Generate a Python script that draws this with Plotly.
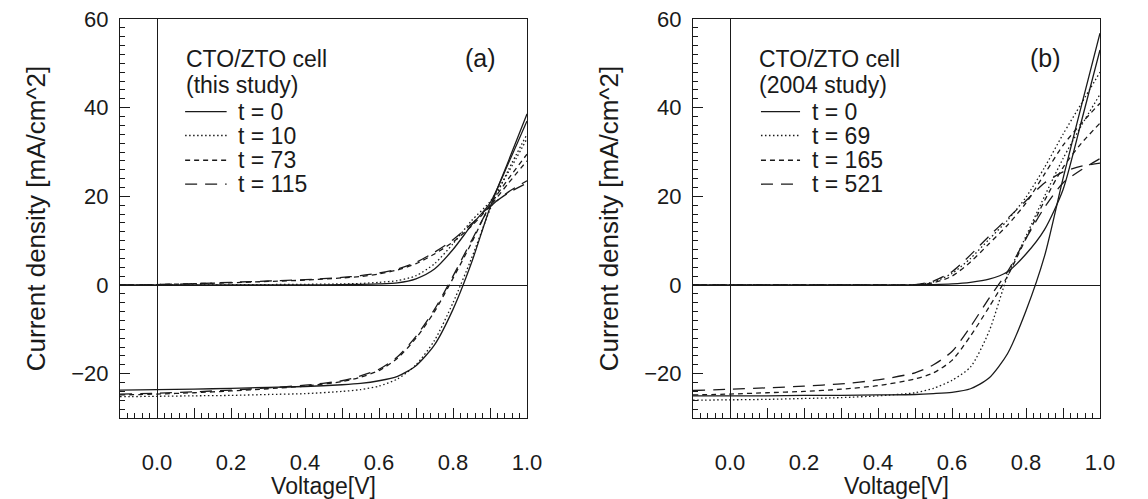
import plotly.graph_objects as go

# ---------------- data ----------------
V = [-0.1, 0.0, 0.1, 0.2, 0.3, 0.4, 0.5, 0.55, 0.6, 0.65, 0.7, 0.75, 0.8, 0.85, 0.9, 0.95, 1.0]

# Panel (a): CTO/ZTO cell (this study)
a_labels = ["t = 0", "t = 10", "t = 73", "t = 115"]
a_light_t0 = [-23.7, -23.6, -23.5, -23.3, -23.1, -22.9, -22.5, -22.2, -21.6, -20.6, -18.2, -13.5, -5.5, 5.0, 17.5, 28.0, 38.6]
a_light_t10 = [-25.2, -25.1, -25.0, -24.9, -24.7, -24.5, -24.0, -23.6, -22.8, -21.2, -18.0, -12.5, -4.0, 6.0, 17.0, 26.0, 34.0]
a_light_t73 = [-24.8, -24.6, -24.3, -23.9, -23.4, -22.8, -21.8, -20.8, -19.3, -16.5, -12.0, -6.0, 1.5, 9.5, 18.0, 24.0, 29.5]
a_light_t115 = [-24.6, -24.4, -24.1, -23.7, -23.2, -22.6, -21.6, -20.5, -19.0, -16.2, -11.6, -5.5, 2.0, 10.0, 17.5, 21.0, 23.5]
a_dark_t0 = [0.0, 0.0, 0.0, 0.0, 0.0, 0.0, 0.1, 0.15, 0.25, 0.5, 1.4, 3.6, 8.0, 13.5, 18.5, 27.5, 37.0]
a_dark_t10 = [0.0, 0.0, 0.0, 0.05, 0.1, 0.15, 0.25, 0.35, 0.6, 1.0, 2.1, 4.8, 9.3, 14.5, 18.8, 25.5, 33.0]
a_dark_t73 = [0.0, 0.1, 0.3, 0.5, 0.8, 1.1, 1.6, 1.9, 2.5, 3.4, 4.8, 7.0, 9.7, 13.3, 17.8, 23.0, 28.0]
a_dark_t115 = [0.0, 0.1, 0.3, 0.6, 0.9, 1.2, 1.7, 2.1, 2.7, 3.6, 5.1, 7.4, 10.2, 13.8, 17.8, 20.8, 23.0]

# Panel (b): CTO/ZTO cell (2004 study)
b_labels = ["t = 0", "t = 69", "t = 165", "t = 521"]
b_light_t0 = [-25.0, -25.0, -25.0, -24.9, -24.9, -24.8, -24.7, -24.5, -24.2, -23.4, -21.0, -15.5, -5.8, 6.5, 24.0, 40.5, 56.8]
b_light_t69 = [-26.0, -25.9, -25.8, -25.6, -25.4, -25.0, -24.3, -23.3, -21.5, -18.5, -10.5, 2.0, 11.0, 20.0, 28.5, 36.0, 43.0]
b_light_t165 = [-24.8, -24.6, -24.3, -24.0, -23.5, -22.7, -21.2, -19.8, -17.0, -11.5, -5.0, 2.0, 10.5, 19.0, 26.5, 32.0, 36.5]
b_light_t521 = [-23.8, -23.5, -23.2, -22.8, -22.3, -21.4, -19.8, -18.0, -15.0, -9.4, -3.0, 3.0, 10.5, 17.5, 23.0, 26.0, 28.5]
b_dark_t0 = [0.0, 0.0, 0.0, 0.0, 0.0, 0.0, 0.05, 0.1, 0.25, 0.6, 1.3, 3.0, 7.0, 12.5, 21.5, 37.0, 53.0]
b_dark_t69 = [0.0, 0.0, 0.0, 0.0, 0.0, 0.0, 0.05, 0.7, 2.6, 6.0, 10.3, 14.6, 19.8, 26.5, 34.0, 41.0, 48.0]
b_dark_t165 = [0.0, 0.0, 0.0, 0.0, 0.0, 0.0, 0.05, 0.5, 2.0, 5.2, 9.3, 13.5, 18.5, 25.0, 31.5, 36.5, 41.0]
b_dark_t521 = [0.0, 0.0, 0.0, 0.0, 0.0, 0.0, 0.1, 0.9, 3.0, 6.8, 11.0, 15.0, 19.0, 23.0, 25.5, 26.8, 27.5]

x_tickvals = [0.0, 0.1, 0.2, 0.3, 0.4, 0.5, 0.6, 0.7, 0.8, 0.9, 1.0]
x_ticktext = ["0.0", "", "0.2", "", "0.4", "", "0.6", "", "0.8", "", "1.0"]

# ---------------- styling ----------------
INK = "#1a1a1a"
FONT = "Liberation Sans, Arial, sans-serif"
DASHES = ["solid", "1.5px,2.5px", "5px,4px", "12px,8px"]
LW = 1.3

# page body has an 8px margin -> figure is 8px smaller than the window
FIG_W, FIG_H = 1140, 491

fig = go.Figure()


def add_panel(lights, darks, labels, xa, ya):
    for i, (lt, dk, lab) in enumerate(zip(lights, darks, labels)):
        for kind, ys in (("light", lt), ("dark", dk)):
            fig.add_trace(go.Scatter(
                x=V, y=ys, mode="lines", name=f"{lab} ({kind})",
                line=dict(color=INK, width=LW, dash=DASHES[i], shape="spline", smoothing=0.7),
                xaxis=xa, yaxis=ya, showlegend=False, hoverinfo="x+y+name"))


add_panel([a_light_t0, a_light_t10, a_light_t73, a_light_t115],
          [a_dark_t0, a_dark_t10, a_dark_t73, a_dark_t115], a_labels, "x", "y")
add_panel([b_light_t0, b_light_t69, b_light_t165, b_light_t521],
          [b_dark_t0, b_dark_t69, b_dark_t165, b_dark_t521], b_labels, "x2", "y2")


def xaxis_cfg(domain, anchor):
    return dict(
        domain=domain, anchor=anchor, range=[-0.1, 1.0],
        tickmode="array", tickvals=x_tickvals, ticktext=x_ticktext,
        ticks="inside", ticklen=10, tickwidth=1, tickcolor=INK,
        minor=dict(dtick=0.02, tick0=0, ticks="inside", ticklen=5, tickwidth=1, tickcolor=INK, showgrid=False),
        showline=True, linecolor=INK, linewidth=1, mirror=True,
        showgrid=False, zeroline=True, zerolinecolor=INK, zerolinewidth=1,
        tickfont=dict(family=FONT, size=22, color=INK), ticklabelstandoff=25,
        ticklabeloverflow="allow",
        title=dict(text="Voltage[V]", font=dict(family=FONT, size=23, color=INK), standoff=0),
        automargin=False)


def yaxis_cfg(domain, anchor):
    return dict(
        domain=domain, anchor=anchor, range=[-30, 60],
        tick0=0, dtick=20,
        ticks="inside", ticklen=10, tickwidth=1, tickcolor=INK,
        minor=dict(dtick=2, tick0=0, ticks="inside", ticklen=5, tickwidth=1, tickcolor=INK, showgrid=False),
        showline=True, linecolor=INK, linewidth=1, mirror=True,
        showgrid=False, zeroline=True, zerolinecolor=INK, zerolinewidth=1,
        tickfont=dict(family=FONT, size=22, color=INK), ticklabelstandoff=6,
        ticklabeloverflow="allow",
        title=dict(text="Current density [mA/cm^2]", font=dict(family=FONT, size=26, color=INK), standoff=18),
        automargin=False)


YDOM = [81 / FIG_H, 480 / FIG_H]
fig.update_layout(
    width=FIG_W, height=FIG_H,
    margin=dict(l=0, r=0, t=0, b=0),
    paper_bgcolor="white", plot_bgcolor="white",
    font=dict(family=FONT, color=INK),
    showlegend=False,
    xaxis=xaxis_cfg([112 / FIG_W, 519 / FIG_W], "y"),
    yaxis=yaxis_cfg(YDOM, "x"),
    xaxis2=xaxis_cfg([685 / FIG_W, 1092 / FIG_W], "y2"),
    yaxis2=yaxis_cfg(YDOM, "x2"),
)

# ---------------- in-plot legends (text + line samples) ----------------
ROWS = [0.768, 0.708, 0.646, 0.586]


def add_legend(xref, yref, title1, title2, labels, tag, x_line0, x_line1, x_text, x_title, x_tag):
    fig.add_annotation(text=title1, xref=xref, yref=yref, x=x_title, y=0.900,
                       xanchor="left", yanchor="middle", showarrow=False,
                       font=dict(family=FONT, size=23, color=INK))
    fig.add_annotation(text=title2, xref=xref, yref=yref, x=x_title, y=0.835,
                       xanchor="left", yanchor="middle", showarrow=False,
                       font=dict(family=FONT, size=23, color=INK))
    fig.add_annotation(text=tag, xref=xref, yref=yref, x=x_tag, y=0.903,
                       xanchor="center", yanchor="middle", showarrow=False,
                       font=dict(family=FONT, size=25, color=INK))
    for i, lab in enumerate(labels):
        fig.add_shape(type="line", xref=xref, yref=yref, x0=x_line0, x1=x_line1,
                      y0=ROWS[i], y1=ROWS[i], line=dict(color=INK, width=LW, dash=DASHES[i]))
        fig.add_annotation(text=lab, xref=xref, yref=yref, x=x_text, y=ROWS[i],
                           xanchor="left", yanchor="middle", showarrow=False,
                           font=dict(family=FONT, size=23, color=INK))


add_legend("x domain", "y domain", "CTO/ZTO cell", "(this study)", a_labels, "(a)",
           0.160, 0.262, 0.285, 0.157, 0.885)
add_legend("x2 domain", "y2 domain", "CTO/ZTO cell", "(2004 study)", b_labels, "(b)",
           0.167, 0.263, 0.287, 0.157, 0.865)

fig.write_html("out.html")
